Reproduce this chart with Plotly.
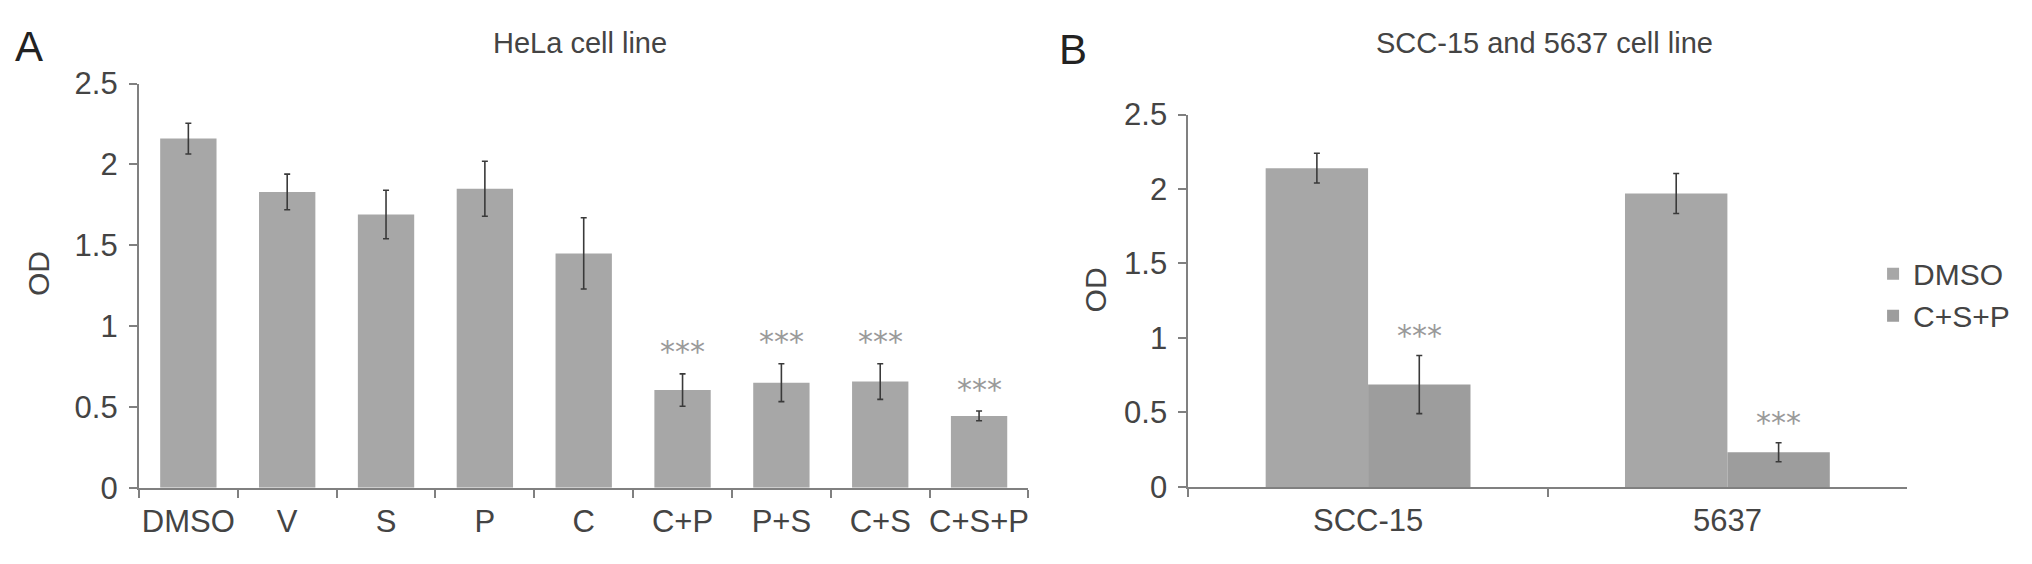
import plotly.graph_objects as go

# ---- data ----
hela_cats = ["DMSO", "V", "S", "P", "C", "C+P", "P+S", "C+S", "C+S+P"]
hela_od = [2.16, 1.83, 1.69, 1.85, 1.45, 0.605, 0.65, 0.657, 0.445]
hela_err = [0.095, 0.11, 0.15, 0.17, 0.22, 0.10, 0.117, 0.11, 0.03]
hela_sig = ["", "", "", "", "", "***", "***", "***", "***"]

lines_cats = ["SCC-15", "5637"]
dmso_od = [2.14, 1.97]
dmso_err = [0.10, 0.134]
csp_od = [0.687, 0.233]
csp_err = [0.195, 0.064]
csp_sig = ["***", "***"]

yticks = [0, 0.5, 1, 1.5, 2, 2.5]
ytick_text = ["0", "0.5", "1", "1.5", "2", "2.5"]

# ---- style ----
FONT = "Liberation Sans"
TXT = "#444444"
AXC = "#808080"
C_DMSO = "#a7a7a7"
C_CSP = "#9d9d9d"
ERRC = "#3a3a3a"
STAR = "#9a9a9a"
W, H = 2032, 564
GAP_B = 0.43

fig = go.Figure()

fig.add_trace(go.Bar(
    x=hela_cats, y=hela_od, marker=dict(color=C_DMSO, line=dict(width=0)),
    error_y=dict(type="data", array=hela_err, color=ERRC, thickness=1.6, width=3),
    showlegend=False, xaxis="x", yaxis="y"))

fig.add_trace(go.Bar(
    x=lines_cats, y=dmso_od, name="DMSO", marker=dict(color=C_DMSO, line=dict(width=0)),
    error_y=dict(type="data", array=dmso_err, color=ERRC, thickness=1.6, width=3),
    xaxis="x2", yaxis="y2"))
fig.add_trace(go.Bar(
    x=lines_cats, y=csp_od, name="C+S+P", marker=dict(color=C_CSP, line=dict(width=0)),
    error_y=dict(type="data", array=csp_err, color=ERRC, thickness=1.6, width=3),
    xaxis="x2", yaxis="y2"))

ann = []
for i, (c, v, e, s) in enumerate(zip(hela_cats, hela_od, hela_err, hela_sig)):
    if s:
        ann.append(dict(x=c, y=v + e, xref="x", yref="y", text=s, showarrow=False,
                        yanchor="middle", yshift=22,
                        font=dict(family="DejaVu Sans", size=30, color=STAR)))
off = (1 - GAP_B) / 4
for i, (v, e, s) in enumerate(zip(csp_od, csp_err, csp_sig)):
    if s:
        ann.append(dict(x=i + off, y=v + e, xref="x2", yref="y2", text=s, showarrow=False,
                        yanchor="middle", yshift=20,
                        font=dict(family="DejaVu Sans", size=30, color=STAR)))

ann += [
    dict(x=580 / W, y=1 - 28 / H, xref="paper", yref="paper", text="HeLa cell line",
         showarrow=False, xanchor="center", yanchor="middle",
         font=dict(family=FONT, size=29, color=TXT)),
    dict(x=1545 / W, y=1 - 28 / H, xref="paper", yref="paper", text="SCC-15 and 5637 cell line",
         showarrow=False, xanchor="center", yanchor="middle",
         font=dict(family=FONT, size=29, color=TXT)),
    dict(x=29 / W, y=1 - 31 / H, xref="paper", yref="paper", text="A",
         showarrow=False, xanchor="center", yanchor="middle",
         font=dict(family=FONT, size=42, color="#222222")),
    dict(x=1074 / W, y=1 - 35 / H, xref="paper", yref="paper", text="B",
         showarrow=False, xanchor="center", yanchor="middle",
         font=dict(family=FONT, size=42, color="#222222")),
    dict(x=38 / W, y=1 - 273 / H, xref="paper", yref="paper", text="OD", textangle=-90,
         showarrow=False, xanchor="center", yanchor="middle",
         font=dict(family=FONT, size=30, color=TXT)),
    dict(x=1096 / W, y=1 - 291 / H, xref="paper", yref="paper", text="OD", textangle=-90,
         showarrow=False, xanchor="center", yanchor="middle",
         font=dict(family=FONT, size=30, color=TXT)),
]

xcommon = dict(showline=True, linecolor=AXC, linewidth=2, ticks="outside", ticklen=8,
               tickcolor=AXC, tickwidth=2, tickson="boundaries", showgrid=False,
               zeroline=False, tickangle=0, ticklabelstandoff=5,
               tickfont=dict(family=FONT, size=31, color=TXT), fixedrange=True)
ycommon = dict(showline=True, linecolor=AXC, linewidth=2, ticks="outside", ticklen=8,
               tickcolor=AXC, tickwidth=2, showgrid=False, zeroline=False, range=[0, 2.5],
               tickvals=yticks, ticktext=ytick_text, ticklabelstandoff=5,
               tickfont=dict(family=FONT, size=31, color=TXT), fixedrange=True)

fig.update_layout(
    width=W, height=H,
    margin=dict(l=0, r=0, t=0, b=0),
    paper_bgcolor="white", plot_bgcolor="white",
    barmode="group",
    xaxis=dict(domain=[139 / W, 1029 / W], anchor="y", range=[-0.5, 8.5], **xcommon),
    yaxis=dict(domain=[(H - 502) / H, (H - 71) / H], anchor="x", **ycommon),
    xaxis2=dict(domain=[1189 / W, 1908 / W], anchor="y2", range=[-0.5, 1.5], **xcommon),
    yaxis2=dict(domain=[(H - 501) / H, (H - 104) / H], anchor="x2", **ycommon),
    bargap=GAP_B,
    legend=dict(x=1874 / W, y=1 - 296 / H, xanchor="left", yanchor="middle",
                font=dict(family=FONT, size=30, color=TXT), bgcolor="rgba(0,0,0,0)",
                tracegroupgap=0, itemwidth=30),
    annotations=ann,
)

fig.write_html(
    "out.html",
    config={"displayModeBar": False},
    post_script="document.body.style.margin='0';document.body.style.padding='0';"
                "document.documentElement.style.overflow='hidden';",
)
